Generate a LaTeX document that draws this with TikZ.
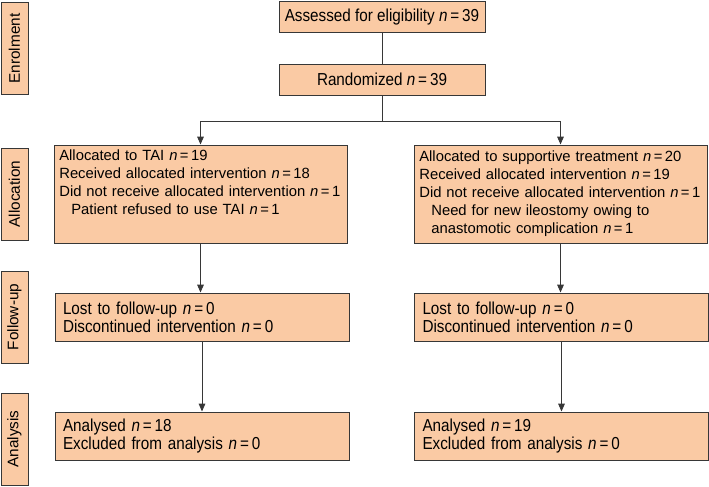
\documentclass[tikz,border=0pt]{standalone}
\usepackage{fontspec}
\setmainfont{Liberation Sans}
\newfontfamily\narrowfont[FakeStretch=0.88]{Liberation Sans}
\usetikzlibrary{arrows.meta,positioning}
\definecolor{peach}{RGB}{250,202,164}
\definecolor{boxline}{RGB}{55,55,55}

\begin{document}
\begin{tikzpicture}[x=0.75pt,y=-0.75pt,
pinknode/.style={rectangle, draw=boxline, fill=peach, line width=0.7pt},
topnode/.style={pinknode, minimum width=154.5pt, minimum height=23.25pt, inner sep=0pt, font=\narrowfont\fontsize{13}{15}\selectfont},
allocnode/.style={pinknode, inner xsep=4pt, inner ysep=0pt, text width=211.75pt, minimum height=73.5pt, align=left, font=\fontsize{11.1}{13.5}\selectfont},
stepnode/.style={pinknode, inner xsep=6pt, inner ysep=0pt, text width=208.5pt, minimum height=36pt, align=left, font=\narrowfont\fontsize{13}{13.5}\selectfont},
sidenode/.style={pinknode, rotate=90, minimum width=69pt, minimum height=20.25pt, inner sep=0pt, font=\fontsize{11.5}{12}\selectfont},
arrow/.style={line width=0.7pt, draw=boxline, -{Triangle[length=6pt,width=5pt]}},
]
\useasboundingbox (0,0) rectangle (709,486);

%Nodes
\node[topnode](assess) at (382,17) {Assessed for eligibility \textit{n}\,=\,39};
\node[topnode](rand) at (382,79.5) {Randomized \textit{n}\,=\,39};

\node[allocnode](allocL) at (200.5,194) {Allocated to TAI \textit{n}\,=\,19\\
Received allocated intervention \textit{n}\,=\,18\\
Did not receive allocated intervention \textit{n}\,=\,1\\
\hspace*{9pt}Patient refused to use TAI \textit{n}\,=\,1\\
\strut};
\node[allocnode](allocR) at (560.5,194) {Allocated to supportive treatment \textit{n}\,=\,20\\
Received allocated intervention \textit{n}\,=\,19\\
Did not receive allocated intervention \textit{n}\,=\,1\\
\hspace*{9pt}Need for new ileostomy owing to\\
\hspace*{9pt}anastomotic complication \textit{n}\,=\,1};

\node[stepnode](followL) at (202,317) {Lost to follow-up \textit{n}\,=\,0\\Discontinued intervention \textit{n}\,=\,0};
\node[stepnode](followR) at (561.5,317) {Lost to follow-up \textit{n}\,=\,0\\Discontinued intervention \textit{n}\,=\,0};

\node[stepnode](anaL) at (202,436) {Analysed \textit{n}\,=\,18\\Excluded from analysis \textit{n}\,=\,0};
\node[stepnode](anaR) at (561.5,436) {Analysed \textit{n}\,=\,19\\Excluded from analysis \textit{n}\,=\,0};

\node[sidenode](enrol) at (14.5,48.5) {Enrolment};
\node[sidenode](alloc) at (14.5,194) {Allocation};
\node[sidenode](follow) at (14.5,317) {Follow-up};
\node[sidenode](analysis) at (14.5,439) {Analysis};

%Lines
\coordinate (split) at (382,121);
\draw[line width=0.7pt, draw=boxline] (assess) -- (rand);
\draw[line width=0.7pt, draw=boxline] (rand) -- (split);
\draw[arrow] (split) -| (allocL.north);
\draw[arrow] (split) -| (allocR.north);
\draw[arrow] (allocL.south) -- (allocL.south |- followL.north);
\draw[arrow] (allocR.south) -- (allocR.south |- followR.north);
\draw[arrow] (followL) -- (anaL);
\draw[arrow] (followR) -- (anaR);
\end{tikzpicture}
\end{document}
